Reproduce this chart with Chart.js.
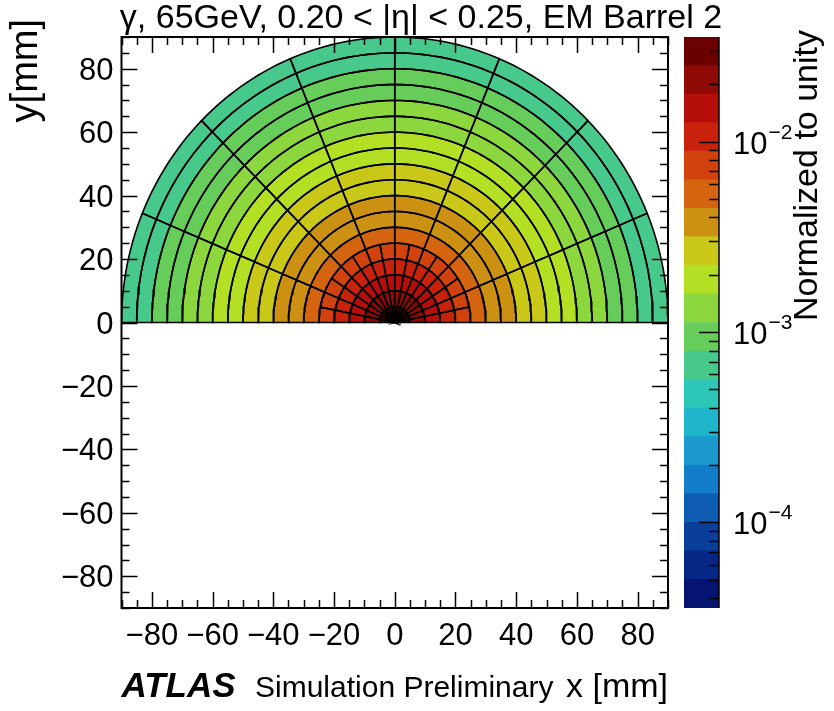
<!DOCTYPE html>
<html><head><meta charset="utf-8">
<script src="https://cdn.jsdelivr.net/npm/chart.js@4.4.1/dist/chart.umd.min.js"></script>
<style>
html,body{margin:0;padding:0;background:#fff;}
#wrap{position:relative;width:834px;height:711px;overflow:hidden;}
canvas{position:absolute;left:0;top:0;}
</style></head><body>
<div id="wrap"><canvas id="main" width="834" height="711"></canvas><canvas id="cbar" width="834" height="711"></canvas></div>
<script>
// ---------------- data ----------------
const titleText = 'γ, 65GeV, 0.20 < |η| < 0.25, EM Barrel 2';
const xAxisTitle = 'x [mm]';
const yAxisTitle = 'y[mm]';
const zAxisTitle = 'Normalized to unity';
const atlasLabel = 'ATLAS';
const atlasSubLabel = 'Simulation Preliminary';

const xRange = [-90, 90];
const yRange = [-90, 90];
const xTickLabels = [-80, -60, -40, -20, 0, 20, 40, 60, 80];
const yTickLabels = [-80, -60, -40, -20, 0, 20, 40, 60, 80];
const minorTickStep = 5;

// radial bin edges [mm]
const radialEdges = [0, 5, 10, 15, 20, 25, 30, 35, 40, 45, 50, 55, 60, 65, 70, 75, 80, 85, 90];
// polar-angle bin edges [deg] (upper half plane)
const alphaEdgesFine = [0, 11.25, 22.5, 33.75, 45, 56.25, 67.5, 78.75, 90, 101.25, 112.5, 123.75, 135, 146.25, 157.5, 168.75, 180];
const alphaEdgesCoarse = [0, 22.5, 45, 67.5, 90, 112.5, 135, 157.5, 180];
const fineRingCount = 5;

// cell values (normalized to unity), one row per radial ring, one entry per angular bin
const ring00 = [0.0301,0.0305,0.0309,0.0312,0.0314,0.0311,0.0307,0.0303,0.0304,0.0308,0.0311,0.0313,0.0312,0.0309,0.0306,0.0302];
const ring01 = [0.0206,0.0209,0.0212,0.0215,0.0216,0.0214,0.0211,0.0208,0.0207,0.0210,0.0213,0.0216,0.0215,0.0212,0.0209,0.0205];
const ring02 = [0.0146,0.0148,0.0151,0.0153,0.0154,0.0152,0.0149,0.0147,0.0148,0.0150,0.0152,0.0154,0.0153,0.0151,0.0148,0.0146];
const ring03 = [0.0104,0.0105,0.0107,0.0108,0.0109,0.0108,0.0106,0.0105,0.0105,0.0106,0.0108,0.0109,0.0108,0.0107,0.0105,0.0104];
const ring04 = [0.0074,0.0075,0.0076,0.0077,0.0077,0.0076,0.0075,0.0074,0.0074,0.0075,0.0076,0.0077,0.0077,0.0076,0.0075,0.0074];
const ring05 = [0.0053,0.0054,0.0055,0.0055,0.0055,0.0055,0.0054,0.0053];
const ring06 = [0.0040,0.0041,0.0042,0.0042,0.0042,0.0041,0.0041,0.0040];
const ring07 = [0.0034,0.0035,0.0035,0.0036,0.0036,0.0035,0.0035,0.0034];
const ring08 = [0.0029,0.0029,0.0030,0.0030,0.0030,0.0030,0.0029,0.0029];
const ring09 = [0.0024,0.0025,0.0025,0.0026,0.0026,0.0025,0.0025,0.0024];
const ring10 = [0.0020,0.0020,0.0021,0.0021,0.0021,0.0021,0.0020,0.0020];
const ring11 = [0.00168,0.00170,0.00172,0.00174,0.00174,0.00172,0.00170,0.00168];
const ring12 = [0.00141,0.00142,0.00144,0.00145,0.00145,0.00144,0.00142,0.00141];
const ring13 = [0.00118,0.00120,0.00121,0.00122,0.00122,0.00121,0.00120,0.00118];
const ring14 = [0.00100,0.00101,0.00102,0.00103,0.00103,0.00102,0.00101,0.00100];
const ring15 = [0.00085,0.00086,0.00087,0.00087,0.00087,0.00087,0.00086,0.00085];
const ring16 = [0.00071,0.00072,0.00073,0.00073,0.00073,0.00073,0.00072,0.00071];
const ring17 = [0.00060,0.00061,0.00062,0.00062,0.00062,0.00062,0.00061,0.00060];
const ringValues = [ring00,ring01,ring02,ring03,ring04,ring05,ring06,ring07,ring08,ring09,ring10,ring11,ring12,ring13,ring14,ring15,ring16,ring17];

// colour axis
const zMin = 3.55e-5;
const zMax = 3.55e-2;
const zTickDecades = [1e-4, 1e-3, 1e-2];
const zTickExponents = ['−4', '−3', '−2'];
// palette, lowest contour first
const paletteColors = ['#041470','#062786','#093f9b','#0d5cb1','#127dc8','#1b98cc','#1fb5cb','#2ec7b7','#48c98c','#66cc5a',
                       '#8cd63e','#b3df25','#c9c819','#cc9013','#d4640f','#d2420f','#c9220c','#b50d0a','#8f0a05','#6b0000'];

// ---------------- helpers ----------------
const FONT = '"Liberation Sans", Arial, sans-serif';
const nContours = paletteColors.length;
function colorFor(v) {
  const f = (Math.log10(v) - Math.log10(zMin)) / (Math.log10(zMax) - Math.log10(zMin));
  let k = Math.floor(f * nContours);
  k = Math.max(0, Math.min(nContours - 1, k));
  return paletteColors[k];
}
function arcPoints(r, a0, a1) {
  const n = Math.max(4, Math.ceil(Math.abs(a1 - a0) / 1.5));
  const pts = [];
  for (let k = 0; k <= n; k++) {
    const a = (a0 + (a1 - a0) * k / n) * Math.PI / 180;
    pts.push({x: r * Math.cos(a), y: r * Math.sin(a)});
  }
  return pts;
}

const cellDatasets = [];
ringValues.forEach((vals, i) => {
  const rIn = radialEdges[i], rOut = radialEdges[i + 1];
  const edges = i < fineRingCount ? alphaEdgesFine : alphaEdgesCoarse;
  vals.forEach((v, j) => {
    const a0 = edges[j], a1 = edges[j + 1];
    let pts = arcPoints(rOut, a0, a1);
    pts = pts.concat(rIn > 0 ? arcPoints(rIn, a1, a0) : [{x: 0, y: 0}]);
    pts.push(pts[0]);
    cellDatasets.push({
      data: pts, showLine: true, fill: false,
      borderColor: '#000', borderWidth: 1.6,
      backgroundColor: colorFor(v),
      pointRadius: 0, pointHoverRadius: 0, tension: 0
    });
  });
});

// fill each cell polygon from the library-computed element positions
const cellFillPlugin = {
  id: 'cellFill',
  beforeDatasetsDraw(chart) {
    const ctx = chart.ctx, a = chart.chartArea;
    ctx.save();
    ctx.beginPath(); ctx.rect(a.left, a.top, a.right - a.left, a.bottom - a.top); ctx.clip();
    chart.data.datasets.forEach((ds, i) => {
      const pts = chart.getDatasetMeta(i).data;
      ctx.beginPath();
      pts.forEach((p, k) => k ? ctx.lineTo(p.x, p.y) : ctx.moveTo(p.x, p.y));
      ctx.closePath();
      ctx.fillStyle = ds.backgroundColor;
      ctx.fill();
    });
    ctx.restore();
  }
};

function ticksBetween(lo, hi, step) {
  const out = [];
  for (let v = Math.ceil(lo / step) * step; v <= hi + 1e-9; v += step) out.push(v);
  return out;
}

const frameAxesPlugin = {
  id: 'frameAxes',
  afterDraw(chart) {
    const ctx = chart.ctx, a = chart.chartArea;
    const xs = chart.scales.x, ys = chart.scales.y;
    ctx.save();
    ctx.strokeStyle = '#000';
    ctx.lineWidth = 1.5;
    // x ticks (bottom & top, inward)
    ticksBetween(xRange[0], xRange[1], minorTickStep).forEach(v => {
      const px = Math.round(xs.getPixelForValue(v)) + 0.5;
      const len = xTickLabels.includes(v) ? 16 : 8;
      ctx.beginPath();
      ctx.moveTo(px, a.bottom); ctx.lineTo(px, a.bottom - len);
      ctx.moveTo(px, a.top); ctx.lineTo(px, a.top + len);
      ctx.stroke();
    });
    ticksBetween(yRange[0], yRange[1], minorTickStep).forEach(v => {
      const py = Math.round(ys.getPixelForValue(v)) + 0.5;
      const len = yTickLabels.includes(v) ? 16 : 8;
      ctx.beginPath();
      ctx.moveTo(a.left, py); ctx.lineTo(a.left + len, py);
      ctx.moveTo(a.right, py); ctx.lineTo(a.right - len, py);
      ctx.stroke();
    });
    ctx.lineWidth = 2;
    ctx.strokeRect(a.left, a.top, a.right - a.left, a.bottom - a.top);

    // tick labels
    ctx.fillStyle = '#000';
    ctx.font = '31px ' + FONT;
    ctx.textAlign = 'center'; ctx.textBaseline = 'alphabetic';
    const fmt = v => (v < 0 ? '−' + Math.abs(v) : String(v));
    xTickLabels.forEach(v => {
      ctx.fillText(fmt(v), xs.getPixelForValue(v), a.bottom + 37);
    });
    ctx.textAlign = 'right';
    yTickLabels.forEach(v => {
      ctx.fillText(fmt(v), a.left - 8, ys.getPixelForValue(v) + 11);
    });

    // title
    ctx.font = '34px ' + FONT;
    ctx.textAlign = 'center';
    ctx.fillText(titleText, 421, 28);

    // axis titles
    ctx.textAlign = 'right';
    ctx.fillText(xAxisTitle, a.right, 697);
    ctx.save();
    ctx.translate(37, a.top - 18);
    ctx.rotate(-Math.PI / 2);
    ctx.textAlign = 'right';
    ctx.font = '38px ' + FONT;
    ctx.fillText(yAxisTitle, 0, 0);
    ctx.restore();

    // ATLAS label
    ctx.textAlign = 'left';
    ctx.font = 'italic bold 35px ' + FONT;
    ctx.fillText(atlasLabel, a.left, 697);
    ctx.font = '30px ' + FONT;
    ctx.fillText(atlasSubLabel, 255, 697);
    ctx.restore();
  }
};

new Chart(document.getElementById('main'), {
  type: 'scatter',
  data: {datasets: cellDatasets},
  options: {
    responsive: false, animation: false, devicePixelRatio: 1,
    layout: {padding: {left: 121.5, right: 166, top: 37, bottom: 103}},
    scales: {
      x: {type: 'linear', min: xRange[0], max: xRange[1], display: false},
      y: {type: 'linear', min: yRange[0], max: yRange[1], display: false}
    },
    plugins: {legend: {display: false}, tooltip: {enabled: false}, title: {display: false}},
    events: []
  },
  plugins: [cellFillPlugin, frameAxesPlugin]
});

// ---------------- colour bar ----------------
const bandDatasets = paletteColors.map((c, k) => {
  const lo = zMin * Math.pow(zMax / zMin, k / nContours);
  const hi = zMin * Math.pow(zMax / zMin, (k + 1) / nContours);
  return {data: [[lo, hi]], backgroundColor: c, borderWidth: 0, barPercentage: 1, categoryPercentage: 1, grouped: false};
});

const cbarAxisPlugin = {
  id: 'cbarAxis',
  afterDraw(chart) {
    const ctx = chart.ctx, a = chart.chartArea, ys = chart.scales.y;
    ctx.save();
    ctx.strokeStyle = '#000'; ctx.lineWidth = 1.5;
    ctx.beginPath(); ctx.moveTo(a.right, a.top); ctx.lineTo(a.right, a.bottom); ctx.stroke();
    for (let d = 1e-6; d < 1; d *= 10) {
      for (let m = 1; m <= 9; m++) {
        const v = m * d;
        if (v < zMin || v > zMax) continue;
        const py = Math.round(ys.getPixelForValue(v)) + 0.5;
        const len = m === 1 ? 20 : 10;
        ctx.beginPath(); ctx.moveTo(a.right, py); ctx.lineTo(a.right - len, py); ctx.stroke();
      }
    }
    ctx.fillStyle = '#000';
    ctx.textBaseline = 'alphabetic'; ctx.textAlign = 'left';
    zTickDecades.forEach((v, i) => {
      const py = ys.getPixelForValue(v);
      ctx.font = '31px ' + FONT;
      ctx.fillText('10', a.right + 14, py + 12);
      const w = ctx.measureText('10').width;
      ctx.font = '21px ' + FONT;
      ctx.fillText(zTickExponents[i], a.right + 14 + w + 1, py - 3);
    });
    ctx.font = '34px ' + FONT;
    ctx.save();
    ctx.translate(817, a.top - 7);
    ctx.rotate(-Math.PI / 2);
    ctx.textAlign = 'right';
    ctx.fillText(zAxisTitle, 0, 0);
    ctx.restore();
    ctx.restore();
  }
};

new Chart(document.getElementById('cbar'), {
  type: 'bar',
  data: {labels: ['z'], datasets: bandDatasets},
  options: {
    responsive: false, animation: false, devicePixelRatio: 1,
    layout: {padding: {left: 684, right: 834 - 719, top: 37, bottom: 711 - 608}},
    scales: {
      x: {display: false},
      y: {type: 'logarithmic', min: zMin, max: zMax, display: false}
    },
    plugins: {legend: {display: false}, tooltip: {enabled: false}},
    events: []
  },
  plugins: [cbarAxisPlugin]
});
</script>
</body></html>
